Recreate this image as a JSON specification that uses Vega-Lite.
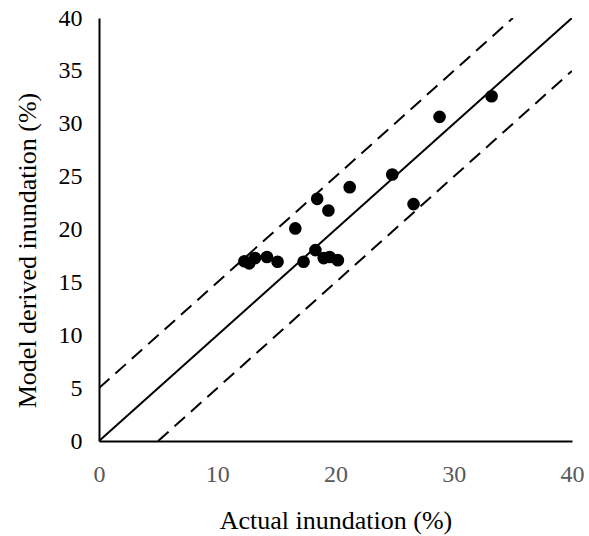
{
  "$schema": "https://vega.github.io/schema/vega-lite/v6.json",
  "width": 473,
  "height": 423,
  "autosize": "none",
  "padding": {"left": 99, "top": 18, "right": 17, "bottom": 95},
  "background": "white",
  "config": {"view": {"stroke": null}, "font": "Liberation Serif"},
  "datasets": {
    "pts": [
      {"actual": 12.3, "model": 17.0},
      {"actual": 12.7, "model": 16.8},
      {"actual": 13.2, "model": 17.3},
      {"actual": 14.2, "model": 17.4},
      {"actual": 15.1, "model": 16.95},
      {"actual": 16.6, "model": 20.1},
      {"actual": 17.3, "model": 16.95},
      {"actual": 18.3, "model": 18.05},
      {"actual": 18.45, "model": 22.9},
      {"actual": 19.0, "model": 17.3},
      {"actual": 19.4, "model": 21.8},
      {"actual": 19.5, "model": 17.4},
      {"actual": 20.2, "model": 17.1},
      {"actual": 21.2, "model": 24.0},
      {"actual": 24.8, "model": 25.2},
      {"actual": 26.6, "model": 22.4},
      {"actual": 28.8, "model": 30.65},
      {"actual": 33.2, "model": 32.6}
    ],
    "lines": [
      {"line": "1:1", "x": 0, "y": 0},
      {"line": "1:1", "x": 40, "y": 40},
      {"line": "+5", "x": 0, "y": 5},
      {"line": "+5", "x": 35, "y": 40},
      {"line": "-5", "x": 5, "y": 0},
      {"line": "-5", "x": 40, "y": 35}
    ]
  },
  "layer": [
    {
      "data": {"name": "lines"},
      "mark": {"type": "line", "color": "black", "strokeWidth": 2, "clip": true},
      "encoding": {
        "x": {"field": "x", "type": "quantitative"},
        "y": {"field": "y", "type": "quantitative"},
        "detail": {"field": "line"},
        "strokeDash": {
          "field": "line",
          "type": "nominal",
          "scale": {"domain": ["1:1", "+5", "-5"], "range": [[1, 0], [14, 8], [14, 8]]},
          "legend": null
        }
      }
    },
    {
      "data": {"name": "pts"},
      "mark": {"type": "point", "filled": true, "color": "black", "opacity": 1, "size": 160},
      "encoding": {
        "x": {
          "field": "actual",
          "type": "quantitative",
          "scale": {"domain": [0, 40], "nice": false, "zero": true},
          "axis": {
            "title": "Actual inundation (%)",
            "values": [0, 10, 20, 30, 40],
            "grid": false,
            "ticks": false,
            "labelFlush": false,
            "domainColor": "black",
            "domainWidth": 2,
            "labelColor": "#595959",
            "labelFontSize": 24,
            "labelPadding": 21,
            "titleFontSize": 26,
            "titleFontWeight": "normal",
            "titleColor": "black",
            "titleBaseline": "alphabetic",
            "titleY": 87
          }
        },
        "y": {
          "field": "model",
          "type": "quantitative",
          "scale": {"domain": [0, 40], "nice": false, "zero": true},
          "axis": {
            "title": "Model derived inundation (%)",
            "values": [0, 5, 10, 15, 20, 25, 30, 35, 40],
            "grid": false,
            "ticks": false,
            "labelFlush": false,
            "domainColor": "black",
            "domainWidth": 2,
            "labelColor": "black",
            "labelFontSize": 24,
            "labelPadding": 17,
            "titleFontSize": 26,
            "titleFontWeight": "normal",
            "titleColor": "black",
            "titleBaseline": "alphabetic",
            "titleX": -64,
            "titleY": 232
          }
        }
      }
    }
  ]
}
